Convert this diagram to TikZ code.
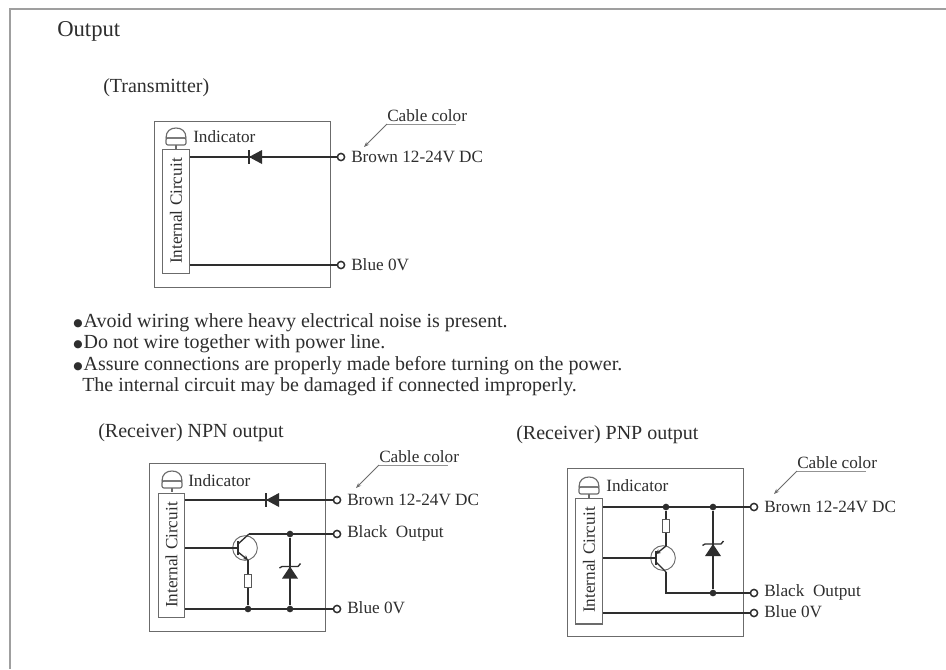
\documentclass[tikz,border=0pt]{standalone}
\usepackage{fontspec}
\setmainfont{Liberation Serif}
\newfontfamily\symfont{DejaVu Sans}
\usetikzlibrary{arrows.meta,calc}
\definecolor{ink}{gray}{0.18}
\definecolor{boxgray}{gray}{0.42}
\newcommand{\notebullet}{\makebox[7.8pt][l]{\raisebox{1.2pt}{\symfont\fontsize{8pt}{8pt}\selectfont ●}}}
\tikzset{
  x=0.75pt,y=-0.75pt,
  label text/.style={anchor=west,inner sep=0pt,text=ink,font=\fontsize{15pt}{18pt}\selectfont},
  heading text/.style={anchor=west,inner sep=0pt,text=ink,font=\fontsize{17pt}{20pt}\selectfont},
  small text/.style={anchor=west,inner sep=0pt,text=ink,font=\fontsize{12.9pt}{15pt}\selectfont},
  frame line/.style={draw=gray!75,line width=1pt},
  outer box/.style={draw=boxgray,line width=0.9pt},
  circuit box/.style={draw=boxgray,line width=0.9pt,anchor=north west,inner sep=0pt},
  wire/.style={draw=ink,line width=1.3pt},
  thin wire/.style={draw=ink,line width=1pt},
  terminal/.style={circle,draw=ink,fill=white,line width=1.1pt,minimum size=5.4pt,inner sep=0pt},
  junction/.style={circle,fill=ink,minimum size=5pt,inner sep=0pt},
  leader/.style={draw=gray!85!black,line width=0.6pt,-{Stealth[length=4pt,width=3pt]}},
  underline rule/.style={draw=gray!85,line width=0.6pt},
  resistor box/.style={rectangle,draw=ink!80,fill=white,line width=0.6pt,minimum width=5.2pt,minimum height=9.6pt,inner sep=0pt},
  transistor ring/.style={circle,draw=ink!70,line width=0.7pt,minimum size=18.5pt,inner sep=0pt},
  diodeleft/.pic={
    \fill[ink] (7,-7) -- (-6,0) -- (7,7) -- cycle;
    \draw[ink,line width=1.5pt] (-6,-7) -- (-6,7);
  },
  zenerup/.pic={
    \fill[ink] (-8,6) -- (0,-6) -- (8,6) -- cycle;
    \draw[ink,line width=1pt] (-10.5,-4.5) -- (-8,-6) -- (8,-6) -- (10.5,-9);
  },
  indicatorlamp/.pic={
    \draw[boxgray,line width=0.85pt] (-10,10) .. controls (-10,3) and (-5.5,0) .. (0,0) .. controls (5.5,0) and (10,3) .. (10,10) -- cycle;
    \draw[boxgray,line width=0.85pt,rounded corners=1.5pt] (-10,10) rectangle (10,17);
    \draw[boxgray,line width=0.85pt] (0,17) -- (0,21);
  },
}
\newcommand{\cablecolor}[3]{%
  \node[small text] (#1text) at (#2,#3) {Cable color};
  \coordinate (#1a) at (#2,#3+8);
  \coordinate (#1b) at (#2+69,#3+8);
  \coordinate (#1c) at (#2-23,#3+31);
  \draw[underline rule] (#1a) -- (#1b);
  \draw[leader] (#1a) -- (#1c);
}
\begin{document}
\begin{tikzpicture}
\useasboundingbox (0,0) rectangle (946,669);
\fill[white] (0,0) rectangle (946,669);
\coordinate (ftl) at (10,9);
\coordinate (ftr) at (946,9);
\coordinate (fbl) at (10,669);
\draw[frame line] (ftr) -- (ftl) -- (fbl);

\node[heading text] (title) at (57,31) {Output};
\node[label text] (tx) at (103,88) {(Transmitter)};

%% Transmitter
\node[outer box,circuit box,minimum width=132pt,minimum height=124.5pt] (t) at (154,121) {};
\node[circuit box,minimum width=20pt,minimum height=93pt] (ti) at (162,149) {};
\node[small text,rotate=90,anchor=center] at (176,211) {Internal Circuit};
\pic at (176,128) {indicatorlamp};
\node[small text] (tind) at (193,137) {Indicator};
\node[terminal] (tb) at (341,157) {};
\node[terminal] (tg) at (341,265) {};
\node[small text] (tbt) at (351,157) {Brown 12-24V DC};
\node[small text] (tgt) at (351,265) {Blue 0V};
\draw[wire] (ti.east |- tb) -- (tb);
\draw[wire] (ti.east |- tg) -- (tg);
\pic at (255,157) {diodeleft};
\cablecolor{tc}{387}{116}

%% Notes
\node[label text] (n0) at (73,323) {\notebullet Avoid wiring where heavy electrical noise is present.};
\node[label text] (n1) at (73,344) {\notebullet Do not wire together with power line.};
\node[label text] (n2) at (73,366) {\notebullet Assure connections are properly made before turning on the power.};
\node[label text] (n3) at (82,387) {The internal circuit may be damaged if connected improperly.};
\node[label text] (rn) at (98,433) {(Receiver) NPN output};
\node[label text] (rp) at (516,435) {(Receiver) PNP output};

%% NPN
\node[outer box,circuit box,minimum width=132pt,minimum height=126pt] (n) at (149,463) {};
\node[circuit box,minimum width=19.5pt,minimum height=93pt] (ni) at (158,493) {};
\node[small text,rotate=90,anchor=center] at (171.5,555) {Internal Circuit};
\pic at (172,471) {indicatorlamp};
\node[small text] (nind) at (188,481) {Indicator};
\node[terminal] (nb) at (337,500) {};
\node[terminal] (no) at (337,534) {};
\node[terminal] (ng) at (337,609) {};
\node[small text] (nbt) at (347,500) {Brown 12-24V DC};
\node[small text] (not) at (347,533) {Black\ \ Output};
\node[small text] (ngt) at (347,608) {Blue 0V};
\draw[wire] (ni.east |- nb) -- (nb);
\draw[wire] (ni.east |- ng) -- (ng);
\pic at (272,500) {diodeleft};
\node[transistor ring] (nq) at (245,548) {};
\coordinate (nbase) at (238,548);
\coordinate (nc) at (249,534);
\coordinate (ne) at (248,560);
\draw[thin wire] (ni.east |- nq) -- (nbase);
\draw[ink,line width=1.4pt] (238,541) -- (238,555);
\draw[thin wire] (238,544) -- (nc);
\draw[wire] (nc) -- (no);
\draw[thin wire,-{Stealth[length=3.5pt,width=3.5pt]}] (238,552) -- (ne);
\node[junction] (nj1) at (290,534) {};
\node[junction] (nj2) at (290,609) {};
\node[junction] (nj3) at (248,609) {};
\draw[thin wire] (ne) -- (nj3);
\draw[thin wire] (nj1) -- (nj2);
\node[resistor box] (nr) at (248,581) {};
\pic at (290,572.5) {zenerup};

%% PNP
\node[outer box,circuit box,minimum width=132pt,minimum height=126pt] (p) at (567,468) {};
\node[circuit box,minimum width=20pt,minimum height=94pt] (pi) at (575,498) {};
\node[small text,rotate=90,anchor=center] at (589,560) {Internal Circuit};
\pic at (589,477) {indicatorlamp};
\node[small text] (pind) at (606,486) {Indicator};
\node[terminal] (pb) at (754,507) {};
\node[terminal] (po) at (754,593) {};
\node[terminal] (pg) at (754,613) {};
\node[small text] (pbt) at (764,507) {Brown 12-24V DC};
\node[small text] (pot) at (764,592) {Black\ \ Output};
\node[small text] (pgt) at (764,612) {Blue 0V};
\draw[wire] (pi.east |- pb) -- (pb);
\draw[wire] (pi.east |- pg) -- (pg);
\node[transistor ring] (pq) at (663,558) {};
\coordinate (pbase) at (656,558);
\coordinate (pe) at (666,546);
\coordinate (pc) at (666,572);
\draw[thin wire] (pi.east |- pq) -- (pbase);
\draw[ink,line width=1.4pt] (656,551) -- (656,565);
\draw[thin wire,-{Stealth[length=3.5pt,width=3.5pt]}] (pe) -- (656,554);
\draw[thin wire] (656,562) -- (pc);
\node[junction] (pj1) at (666,507) {};
\node[junction] (pj2) at (713,507) {};
\node[junction] (pj3) at (713,593) {};
\draw[thin wire] (pj1) -- (pe);
\draw[wire] (pc) |- (po);
\draw[thin wire] (pj2) -- (pj3);
\node[resistor box] (pr) at (666,526) {};
\pic at (713,550) {zenerup};
\cablecolor{nk}{379}{457}
\cablecolor{pk}{797}{463}
\end{tikzpicture}
\end{document}
